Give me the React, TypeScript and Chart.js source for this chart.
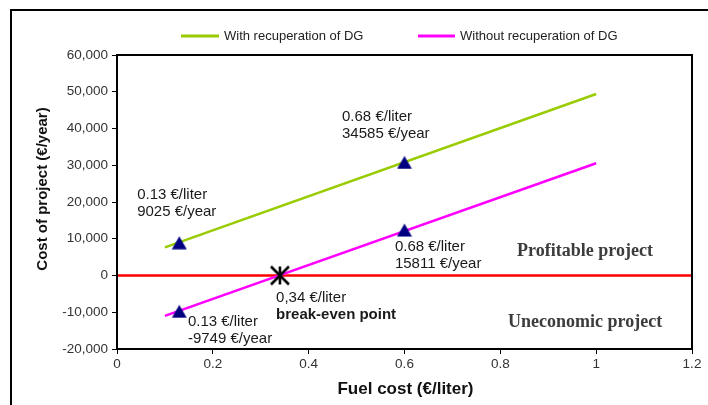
import React, { useEffect, useRef } from 'react';
import { Chart, registerables } from 'chart.js';

Chart.register(...registerables);

// ---- data ----
const seriesNames = ['With recuperation of DG', 'Without recuperation of DG'];
const lineX = [0.1, 1.0];
const withRecup = [7650, 49400];
const withoutRecup = [-11000, 30550];
const zeroLineX = [0, 1.2];
const zeroLineY = [0, 0];
const markerX = [0.13, 0.6, 0.13, 0.6];
const markerY = [8900, 30750, -9750, 12350];
const breakEvenX = [0.34];
const breakEvenY = [0];
const xTickValues = [0, 0.2, 0.4, 0.6, 0.8, 1.0, 1.2];
const xTickLabels = ['0', '0.2', '0.4', '0.6', '0.8', '1', '1.2'];
const yTickValues = [-20000, -10000, 0, 10000, 20000, 30000, 40000, 50000, 60000];
const yTickLabels = ['-20,000', '-10,000', '0', '10,000', '20,000', '30,000', '40,000', '50,000', '60,000'];
const xTitle = 'Fuel cost (€/liter)';
const yTitle = 'Cost of project (€/year)';

// annotations anchored in data coordinates (left edge, first line middle)
const annotations = [
  { x: 0.042, y: 21900, lines: ['0.13 €/liter', '9025 €/year'], bold: [false, false] },
  { x: 0.4696, y: 43130, lines: ['0.68 €/liter', '34585 €/year'], bold: [false, false] },
  { x: 0.58, y: 7755, lines: ['0.68 €/liter', '15811 €/year'], bold: [false, false] },
  { x: 0.332, y: -6200, lines: ['0,34 €/liter', 'break-even point'], bold: [false, true] },
  { x: 0.148, y: -12735, lines: ['0.13 €/liter', '-9749 €/year'], bold: [false, false] },
];
const zoneLabels = [
  { x: 0.835, y: 6670, text: 'Profitable project' },
  { x: 0.816, y: -12650, text: 'Uneconomic project' },
];

const SANS = "'Liberation Sans', Arial, sans-serif";
const SERIF = "'Liberation Serif', 'Times New Roman', serif";
const GREEN = '#99cc00';
const MAGENTA = '#ff00ff';

function makeTriangle(color: string) {
  const c = document.createElement('canvas');
  c.width = 16;
  c.height = 14;
  const g = c.getContext('2d')!;
  g.fillStyle = color;
  g.beginPath();
  g.moveTo(8, 0.5);
  g.lineTo(15.5, 13.5);
  g.lineTo(0.5, 13.5);
  g.closePath();
  g.fill();
  return c;
}

function makeAsterisk() {
  const c = document.createElement('canvas');
  c.width = 22;
  c.height = 22;
  const g = c.getContext('2d')!;
  g.strokeStyle = '#000';
  g.lineWidth = 2.6;
  const cx = 11, cy = 11, r = 9;
  g.beginPath();
  g.moveTo(cx, cy - r);
  g.lineTo(cx, cy + r);
  g.moveTo(cx - r, cy - r);
  g.lineTo(cx + r, cy + r);
  g.moveTo(cx + r, cy - r);
  g.lineTo(cx - r, cy + r);
  g.stroke();
  return c;
}

const decorPlugin = {
  id: 'decor',
  afterDatasetsDraw(chart: any) {
    const { ctx, chartArea } = chart;
    ctx.save();
    ctx.strokeStyle = '#000';
    ctx.lineWidth = 2;
    ctx.strokeRect(chartArea.left, chartArea.top, chartArea.right - chartArea.left, chartArea.bottom - chartArea.top);
    ctx.restore();
  },
  afterDraw(chart: any) {
    const { ctx } = chart;
    const xs = chart.scales.x;
    const ys = chart.scales.y;
    ctx.save();
    // outer figure border
    ctx.strokeStyle = '#000';
    ctx.lineWidth = 2;
    ctx.beginPath();
    ctx.moveTo(11, 420);
    ctx.lineTo(11, 10);
    ctx.lineTo(720, 10);
    ctx.stroke();

    // legend
    const legendItems = [
      { color: GREEN, x0: 181, x1: 219, tx: 224, text: seriesNames[0] },
      { color: MAGENTA, x0: 418, x1: 455, tx: 460, text: seriesNames[1] },
    ];
    ctx.font = `13px ${SANS}`;
    ctx.textBaseline = 'middle';
    ctx.textAlign = 'left';
    for (const it of legendItems) {
      ctx.strokeStyle = it.color;
      ctx.lineWidth = 3;
      ctx.beginPath();
      ctx.moveTo(it.x0, 36);
      ctx.lineTo(it.x1, 36);
      ctx.stroke();
      ctx.fillStyle = '#222';
      ctx.fillText(it.text, it.tx, 36);
    }

    // axis titles
    ctx.fillStyle = '#111';
    ctx.font = `bold 17px ${SANS}`;
    ctx.textAlign = 'center';
    ctx.fillText(xTitle, (chart.chartArea.left + chart.chartArea.right) / 2 + 1, 389);
    ctx.save();
    ctx.translate(43, 189);
    ctx.rotate(-Math.PI / 2);
    ctx.font = `bold 15px ${SANS}`;
    ctx.fillText(yTitle, 0, 0);
    ctx.restore();

    // annotations
    ctx.textAlign = 'left';
    ctx.fillStyle = '#1a1a1a';
    for (const a of annotations) {
      const px = xs.getPixelForValue(a.x);
      const py = ys.getPixelForValue(a.y);
      a.lines.forEach((t, i) => {
        ctx.font = `${a.bold[i] ? 'bold ' : ''}15px ${SANS}`;
        ctx.fillText(t, px, py + i * 17);
      });
    }
    ctx.fillStyle = '#3c3c3c';
    ctx.font = `bold 18px ${SERIF}`;
    for (const z of zoneLabels) {
      ctx.fillText(z.text, xs.getPixelForValue(z.x), ys.getPixelForValue(z.y));
    }
    ctx.restore();
  },
};

export default function App() {
  const ref = useRef<HTMLCanvasElement>(null);
  useEffect(() => {
    const canvas = ref.current!;
    const tri = makeTriangle('#000080');
    const star = makeAsterisk();
    const chart = new Chart(canvas, {
      type: 'scatter',
      data: {
        datasets: [
          {
            label: 'zero',
            data: zeroLineX.map((x, i) => ({ x, y: zeroLineY[i] })),
            showLine: true,
            borderColor: '#ff0000',
            borderWidth: 2.5,
            pointRadius: 0,
            order: 5,
          },
          {
            label: seriesNames[0],
            data: lineX.map((x, i) => ({ x, y: withRecup[i] })),
            showLine: true,
            borderColor: GREEN,
            borderWidth: 2.5,
            pointRadius: 0,
            order: 4,
          },
          {
            label: seriesNames[1],
            data: lineX.map((x, i) => ({ x, y: withoutRecup[i] })),
            showLine: true,
            borderColor: MAGENTA,
            borderWidth: 2.5,
            pointRadius: 0,
            order: 3,
          },
          {
            label: 'markers',
            data: markerX.map((x, i) => ({ x, y: markerY[i] })),
            showLine: false,
            pointStyle: tri as any,
            pointRadius: 8,
            order: 2,
          },
          {
            label: 'break-even',
            data: breakEvenX.map((x, i) => ({ x, y: breakEvenY[i] })),
            showLine: false,
            pointStyle: star as any,
            pointRadius: 10,
            order: 1,
          },
        ] as any,
      },
      options: {
        responsive: false,
        animation: false,
        devicePixelRatio: 1,
        layout: { padding: { left: 10, top: 55, right: 16, bottom: 0 } },
        plugins: {
          legend: { display: false },
          tooltip: { enabled: false },
        },
        scales: {
          x: {
            type: 'linear',
            min: 0,
            max: 1.2,
            afterBuildTicks: (s: any) => {
              s.ticks = xTickValues.map((v) => ({ value: v }));
            },
            afterFit: (s: any) => {
              s.height = 56;
            },
            ticks: {
              callback: (_v: any, i: number) => xTickLabels[i],
              font: { family: SANS, size: 13.5 },
              color: '#333',
              padding: 2,
              maxRotation: 0,
              autoSkip: false,
            },
            grid: { drawOnChartArea: false, drawTicks: true, tickLength: 5, color: '#000', lineWidth: 1 },
            border: { display: true, color: '#000', width: 2 },
          },
          y: {
            type: 'linear',
            min: -20000,
            max: 60000,
            afterBuildTicks: (s: any) => {
              s.ticks = yTickValues.map((v) => ({ value: v }));
            },
            afterFit: (s: any) => {
              s.width = 107;
            },
            ticks: {
              callback: (_v: any, i: number) => yTickLabels[i],
              font: { family: SANS, size: 13.5 },
              color: '#333',
              padding: 4,
              autoSkip: false,
            },
            grid: { drawOnChartArea: false, drawTicks: true, tickLength: 5, color: '#000', lineWidth: 1 },
            border: { display: true, color: '#000', width: 2 },
          },
        },
      } as any,
      plugins: [decorPlugin],
    });
    return () => chart.destroy();
  }, []);
  return (
    <div style={{ position: 'absolute', left: 0, top: 0, width: 708, height: 405, background: '#fff' }}>
      <canvas ref={ref} width={708} height={405} style={{ display: 'block' }} />
    </div>
  );
}
